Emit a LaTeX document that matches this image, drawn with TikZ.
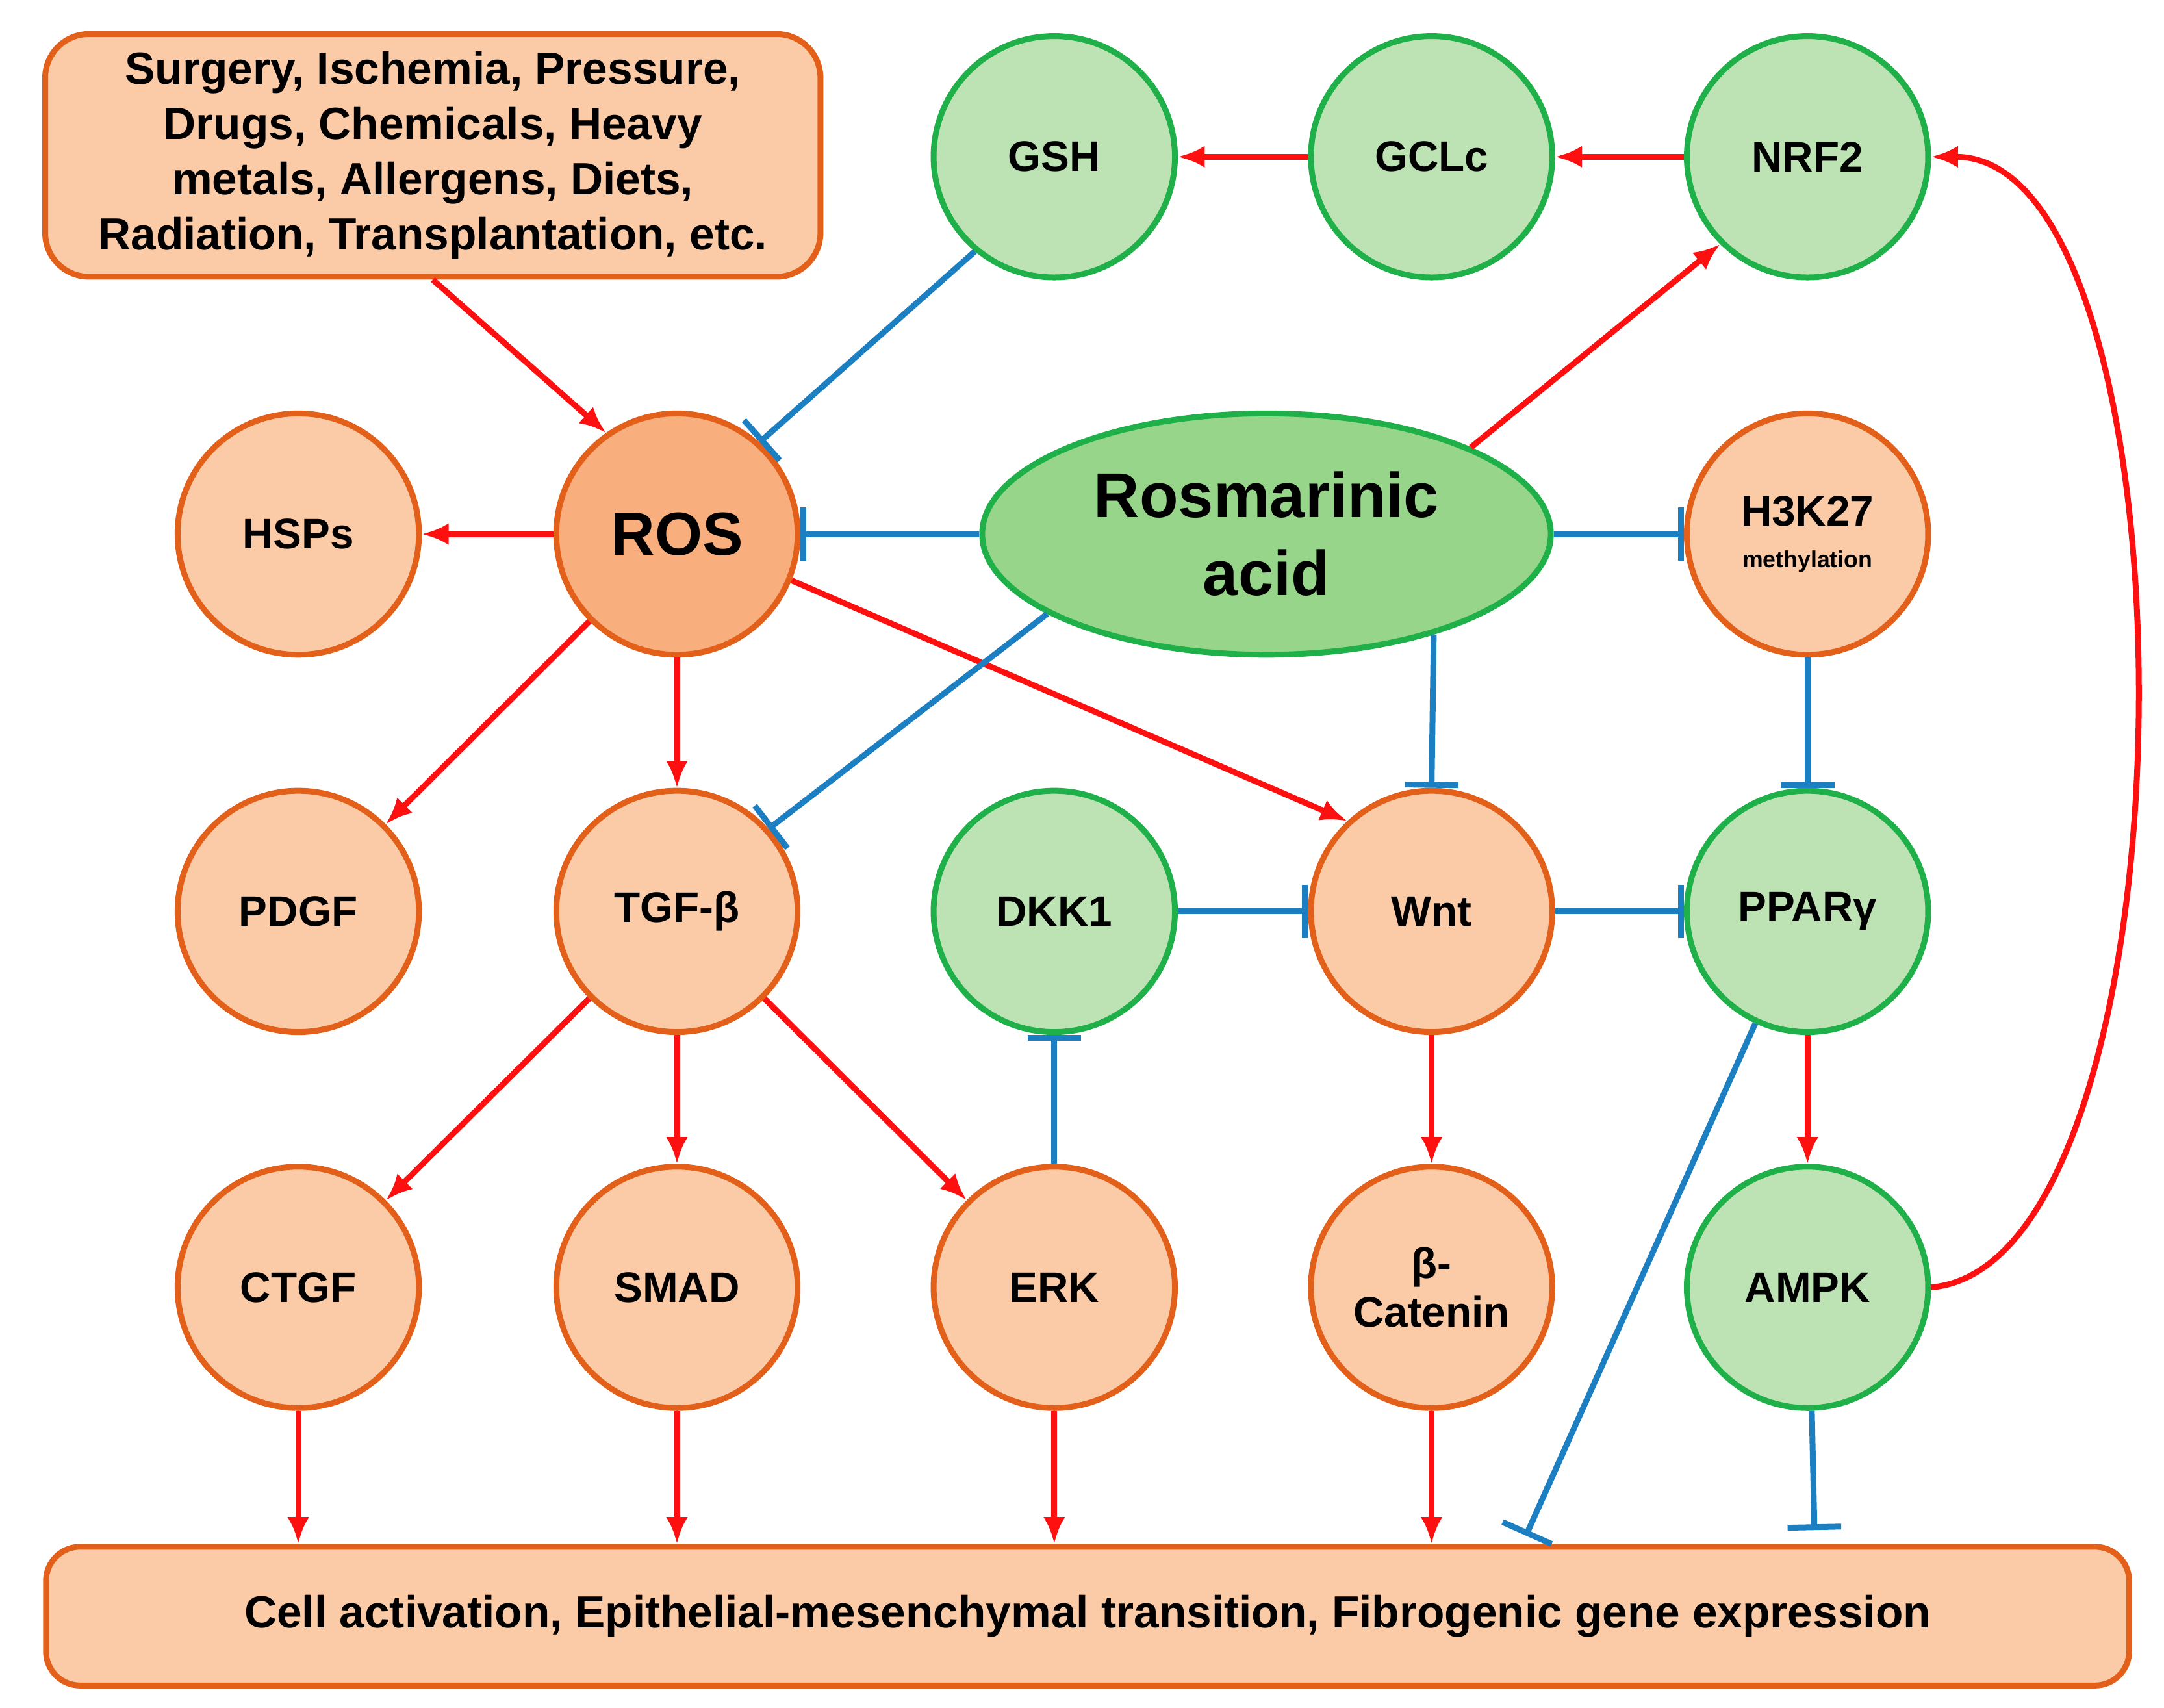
\documentclass[tikz,border=0pt]{standalone}
\usepackage{fontspec}
\setmainfont{Liberation Sans}
\usetikzlibrary{arrows.meta,shapes.geometric,calc}
\definecolor{obord}{HTML}{E2601A}
\definecolor{ofill}{HTML}{FBCBA8}
\definecolor{rosfill}{HTML}{F9AE7E}
\definecolor{gbord}{HTML}{1FB04A}
\definecolor{gfill}{HTML}{BDE3B5}
\definecolor{efill}{HTML}{96D58A}
\definecolor{act}{HTML}{FF1010}
\definecolor{inh}{HTML}{1C7FC2}
\tikzset{
  circ/.style={circle,line width=2.4pt,minimum size=3.48cm,inner sep=0pt,align=center,
    font=\fontsize{17.5}{20}\selectfont\bfseries},
  orn/.style={circ,draw=obord,fill=ofill},
  grn/.style={circ,draw=gbord,fill=gfill},
  act/.style={draw=act,line width=2.4pt,-{Latex[length=11pt,width=9pt]}},
  inh/.style={draw=inh,line width=2.4pt,-{Bar[width=22pt,line width=2.4pt]}},
}
\begin{document}
\begin{tikzpicture}[x=0.02cm,y=-0.02cm]
\useasboundingbox (0,0) rectangle (1560,1231);
% top and bottom boxes
\node[draw=obord,fill=ofill,line width=2.4pt,rounded corners=18pt,minimum width=11.18cm,
  minimum height=3.5cm,align=center,font=\fontsize{18.5}{22.7}\selectfont\bfseries] (box) at (312,112)
  {Surgery, Ischemia, Pressure,\\Drugs, Chemicals, Heavy\\metals, Allergens, Diets,\\Radiation, Transplantation, etc.};
\node[draw=obord,fill=ofill,line width=2.4pt,rounded corners=14pt,minimum width=30.04cm,
  minimum height=2cm,font=\fontsize{18.5}{20}\selectfont\bfseries] (bot) at (784,1165)
  {Cell activation, Epithelial-mesenchymal transition, Fibrogenic gene expression};
% top row
\node[grn] (gsh) at (760,113) {GSH};
\node[grn] (gclc) at (1032,113) {GCLc};
\node[grn] (nrf2) at (1303,113) {NRF2};
% second row
\node[orn] (hsps) at (215,385) {HSPs};
\node[circ,draw=obord,fill=rosfill,font=\fontsize{25}{28}\selectfont\bfseries] (ros) at (488,385) {ROS};
\node[ellipse,draw=gbord,fill=efill,line width=2.4pt,minimum width=8.2cm,minimum height=3.48cm,
  align=center,font=\fontsize{26}{32}\selectfont\bfseries] (ra) at (913,385) {Rosmarinic\\acid};
\node[orn] (h3) at (1303,385) {H3K27\\[-3pt]{\fontsize{9.5}{11}\selectfont methylation}};
% third row
\node[orn] (pdgf) at (215,657) {PDGF};
\node[orn] (tgf) at (488,657) {TGF-β};
\node[grn] (dkk) at (760,657) {DKK1};
\node[orn] (wnt) at (1032,657) {Wnt};
\node[grn] (ppar) at (1303,657) {PPARγ};
% fourth row
\node[orn] (ctgf) at (215,928) {CTGF};
\node[orn] (smad) at (488,928) {SMAD};
\node[orn] (erk) at (760,928) {ERK};
\node[orn] (cat) at (1032,928) {β-\\Catenin};
\node[grn] (ampk) at (1303,928) {AMPK};
% free ends above the bottom box
\coordinate (pparend) at (1100,1107);
\coordinate (ampkend) at (1308,1103);
% activations
\draw[act] (box.south) -- (ros.125);
\draw[act] (gclc) -- (gsh);
\draw[act] (nrf2) -- (gclc);
\draw[act] (ra.23) -- (nrf2.-135);
\draw[act] (ampk.east) to[out=5,in=0,looseness=0.62] (nrf2.east);
\draw[act] (ros) -- (hsps);
\draw[act] (ros) -- (pdgf);
\draw[act] (ros) -- (tgf);
\draw[act] (ros.-22) -- (wnt.133);
\draw[act] (tgf) -- (ctgf);
\draw[act] (tgf) -- (smad);
\draw[act] (tgf) -- (erk);
\draw[act] (wnt) -- (cat);
\draw[act] (ppar) -- (ampk);
\foreach \n in {ctgf,smad,erk,cat}
  \draw[act] (\n.south) -- (\n |- bot.north);
% inhibitions
\draw[inh] (gsh.-130) -- (ros.48);
\draw[inh] (ra.west) -- (ros.east);
\draw[inh] (ra.east) -- (h3.west);
\draw[inh] (ra.-160) -- (tgf.42);
\draw[inh] (ra.-31) -- (wnt.north);
\draw[inh] (h3) -- (ppar);
\draw[inh] (dkk) -- (wnt);
\draw[inh] (wnt) -- (ppar);
\draw[inh] (erk) -- (dkk);
\draw[inh] (ppar.-115) -- (pparend);
\draw[inh] (ampk.-88) -- (ampkend);
\end{tikzpicture}
\end{document}
